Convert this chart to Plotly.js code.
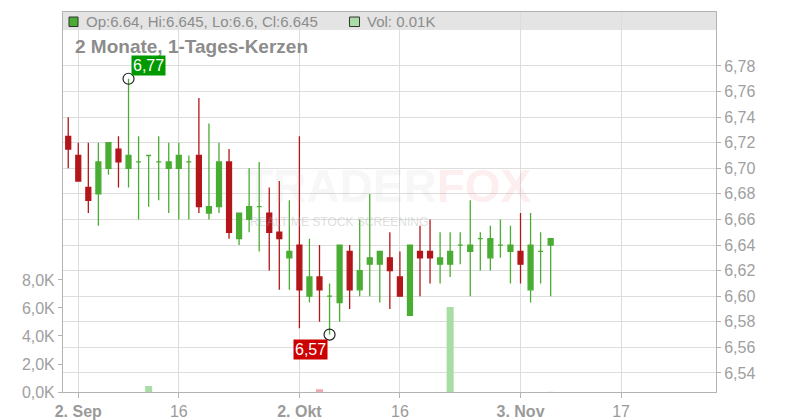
<!DOCTYPE html>
<html>
<head>
<meta charset="utf-8">
<script src="https://cdn.plot.ly/plotly-3.0.1.min.js"></script>
<style>
  html, body { margin:0; padding:0; background:#ffffff; }
  #myDiv { width:800px; height:420px; }
</style>
</head>
<body>
<div id="myDiv"></div>
<script>
// trading days (weekends removed by the axis rangebreaks)
var days = [
  '2025-09-01','2025-09-02','2025-09-03','2025-09-04','2025-09-05',
  '2025-09-08','2025-09-09','2025-09-10','2025-09-11','2025-09-12',
  '2025-09-15','2025-09-16','2025-09-17','2025-09-18','2025-09-19',
  '2025-09-22','2025-09-23','2025-09-24','2025-09-25','2025-09-26',
  '2025-09-29','2025-09-30','2025-10-01','2025-10-02','2025-10-03',
  '2025-10-06','2025-10-07','2025-10-08','2025-10-09','2025-10-10',
  '2025-10-13','2025-10-14','2025-10-15','2025-10-16','2025-10-17',
  '2025-10-20','2025-10-21','2025-10-22','2025-10-23','2025-10-24',
  '2025-10-27','2025-10-28','2025-10-29','2025-10-30','2025-10-31',
  '2025-11-03','2025-11-04','2025-11-05','2025-11-06'
];
var openP = [
  6.725,6.71,6.685,6.68,6.70, 6.715,6.70,6.705,6.71,6.705,
  6.70,6.70,6.705,6.71,6.665, 6.67,6.705,6.645,6.66,6.67,
  6.665,6.65,6.63,6.64,6.60, 6.615,6.60,6.595,6.635,6.605,
  6.625,6.625,6.63,6.615,6.585, 6.635,6.635,6.625,6.625,6.64,
  6.635,6.645,6.63,6.64,6.635, 6.635,6.605,6.635,6.64
];
var highP = [
  6.74,6.72,6.72,6.72,6.72, 6.725,6.77,6.725,6.71,6.725,
  6.72,6.72,6.71,6.755,6.735, 6.72,6.715,6.665,6.70,6.705,
  6.685,6.69,6.675,6.725,6.645, 6.64,6.61,6.64,6.64,6.66,
  6.68,6.635,6.65,6.635,6.64, 6.655,6.66,6.65,6.65,6.65,
  6.675,6.65,6.655,6.66,6.655, 6.665,6.665,6.65,6.645
];
var lowP = [
  6.70,6.69,6.665,6.655,6.695, 6.685,6.685,6.66,6.67,6.675,
  6.665,6.66,6.66,6.665,6.66, 6.665,6.645,6.64,6.65,6.635,
  6.62,6.605,6.605,6.575,6.595, 6.58,6.57,6.58,6.59,6.60,
  6.60,6.595,6.59,6.60,6.585, 6.60,6.61,6.61,6.615,6.625,
  6.60,6.62,6.62,6.63,6.61, 6.61,6.595,6.61,6.60
];
var closeP = [
  6.715,6.69,6.675,6.705,6.72, 6.705,6.71,6.705,6.71,6.705,
  6.705,6.71,6.705,6.67,6.67, 6.705,6.65,6.665,6.67,6.67,
  6.65,6.645,6.635,6.605,6.615, 6.605,6.60,6.64,6.605,6.62,
  6.63,6.635,6.62,6.60,6.64, 6.63,6.63,6.63,6.635,6.64,
  6.64,6.645,6.645,6.64,6.64, 6.625,6.64,6.635,6.645
];
// volume in thousand shares (days without a visible bar left at 0)
var volK = [
  0,0,0,0,0, 0,0,0,0.43,0,
  0,0,0,0,0, 0,0,0,0,0,
  0,0,0,0,0, 0.20,0,0,0,0,
  0,0,0,0,0, 0,0,0,6.07,0,
  0,0,0,0,0, 0,0,0,0.01
];
var tickDays = ['2025-09-02','2025-09-16','2025-10-02','2025-10-16','2025-11-03','2025-11-17'];
var tickLabels = ['<b>2. Sep</b>','16','<b>2. Okt</b>','16','<b>3. Nov</b>','17'];
var priceTicks = [6.54,6.56,6.58,6.60,6.62,6.64,6.66,6.68,6.70,6.72,6.74,6.76,6.78];
var volTicks = [0,2,4,6,8];

var GREEN='#4aad33', RED='#b3161a';
var VOL_GREEN='#aadca5', VOL_RED='#f0aab4';

// candles sit at noon so bars never touch a weekend break
function noon(d) { return d+' 12:00'; }
var xs = days.map(noon);

function pick(arr, up) {
  var out=[];
  for (var i=0;i<arr.length;i++) {
    if ((closeP[i] >= openP[i]) === up) out.push(arr[i]);
  }
  return out;
}

function candleTrace(up) {
  var col = up ? GREEN : RED;
  return {
    type:'candlestick', xaxis:'x', yaxis:'y2',
    x: pick(xs,up), open: pick(openP,up), high: pick(highP,up),
    low: pick(lowP,up), close: pick(closeP,up),
    increasing: {line:{color:col, width:1.3}, fillcolor:col},
    decreasing: {line:{color:col, width:1.3}, fillcolor:col},
    whiskerwidth: 0, hoverinfo:'skip', showlegend:false
  };
}

var volColors = [];
for (var i=0;i<days.length;i++) volColors.push(closeP[i] >= openP[i] ? VOL_GREEN : VOL_RED);

var traceVol = {
  type:'bar', x: xs, y: volK, xaxis:'x', yaxis:'y',
  width: 0.7*86400000,
  marker:{color: volColors, line:{width:0}},
  hoverinfo:'skip', showlegend:false
};

// max / min markers
var iMax=0, iMin=0;
for (var k=1;k<days.length;k++) {
  if (highP[k] > highP[iMax]) iMax=k;
  if (lowP[k] < lowP[iMin]) iMin=k;
}
var traceExt = {
  type:'scatter', mode:'markers', xaxis:'x', yaxis:'y2',
  x:[xs[iMax], xs[iMin]], y:[highP[iMax], lowP[iMin]],
  marker:{symbol:'circle-open', size:11, color:'#222222', line:{width:1.2, color:'#222222'}},
  hoverinfo:'skip', showlegend:false
};

function fmt(v, n) { return v.toFixed(n).replace('.',','); }
var last = days.length-1;
var headText = 'Op:'+openP[last]+', Hi:'+highP[last]+', Lo:'+lowP[last]+', Cl:'+closeP[last];
var volText = 'Vol: '+volK[last].toFixed(2)+'K';

var FONT = 'Arial, "Liberation Sans", sans-serif';
var AXC = '#b3b3b3';

var layout = {
  width:800, height:420,
  margin:{l:63, r:84, t:12, b:28},
  paper_bgcolor:'#ffffff', plot_bgcolor:'#ffffff',
  separators:',.',
  showlegend:false,
  font:{family:FONT, size:16, color:'#9a9a9a'},
  xaxis:{
    type:'date',
    range:['2025-08-29 23:31','2025-11-28 22:48'],
    rangebreaks:[{bounds:['sat','mon']}],
    rangeslider:{visible:false},
    tickmode:'array', tickvals: tickDays.map(noon), ticktext: tickLabels,
    showgrid:true, gridcolor:'#dddddd', gridwidth:1,
    showline:true, linecolor:AXC, mirror:true,
    ticks:'outside', ticklen:5, tickcolor:AXC,
    tickfont:{size:16, color:'#9a9a9a'},
    zeroline:false
  },
  yaxis:{
    range:[0, 27.14], tickmode:'array', tickvals:volTicks,
    ticktext: volTicks.map(function(v){ return fmt(v,1)+'K'; }),
    showgrid:false, showline:true, linecolor:AXC,
    ticks:'outside', ticklen:4, tickcolor:AXC,
    tickfont:{size:16, color:'#a0a0a0'}, zeroline:false
  },
  yaxis2:{
    overlaying:'y', side:'right',
    range:[6.5251, 6.8222], tickmode:'array', tickvals:priceTicks,
    ticktext: priceTicks.map(function(v){ return fmt(v,2); }),
    showgrid:true, gridcolor:'#dddddd',
    showline:true, linecolor:AXC,
    ticks:'outside', ticklen:4, tickcolor:AXC,
    tickfont:{size:16, color:'#a0a0a0'}, zeroline:false
  },
  shapes:[
    {type:'rect', xref:'paper', yref:'paper', x0:0, x1:1, y0:0.9526, y1:1,
     fillcolor:'#e4e4e4', line:{width:0}, layer:'below'},
    {type:'rect', xref:'paper', yref:'paper', x0:0.0092, x1:0.0230, y0:0.9618, y1:0.9868,
     fillcolor:GREEN, line:{width:1, color:'#333333'}},
    {type:'rect', xref:'paper', yref:'paper', x0:0.4387, x1:0.4541, y0:0.9618, y1:0.9868,
     fillcolor:VOL_GREEN, line:{width:1, color:'#333333'}}
  ],
  annotations:[
    // watermark, see-through so the candles still show
    {xref:'paper', yref:'paper', x:0.4982, y:0.4711, xanchor:'center', yanchor:'bottom',
     showarrow:false, borderpad:0,
     text:'<b><span style="color:rgba(170,170,170,0.33)">TRADER</span><span style="color:rgba(235,80,95,0.33)">FOX</span></b>',
     font:{size:46, family:FONT, color:'rgba(170,170,170,0.33)'}},
    {xref:'paper', yref:'paper', x:0.4219, y:0.4684, xanchor:'center', yanchor:'top',
     showarrow:false, borderpad:0, text:'REALTIME STOCK SCREENING',
     font:{size:12, family:FONT, color:'rgba(170,170,170,0.4)'}},
    {xref:'paper', yref:'paper', x:0.0322, y:0.9750, xanchor:'left', yanchor:'middle',
     showarrow:false, text:headText, font:{size:15, family:FONT, color:'#8c8c8c'}},
    {xref:'paper', yref:'paper', x:0.4625, y:0.9750, xanchor:'left', yanchor:'middle',
     showarrow:false, text:volText, font:{size:15, family:FONT, color:'#8c8c8c'}},
    {xref:'paper', yref:'paper', x:0.0148, y:0.9079, xanchor:'left', yanchor:'middle',
     showarrow:false, text:'<b>2 Monate, 1-Tages-Kerzen</b>', font:{size:19, family:FONT, color:'#8c8c8c'}},
    {xref:'x', yref:'y2', x:xs[iMax], y:highP[iMax], xanchor:'left', yanchor:'bottom',
     xshift:2, yshift:3, showarrow:false, text:fmt(highP[iMax],2),
     bgcolor:'#009900', borderpad:1, font:{size:16, family:FONT, color:'#ffffff'}},
    {xref:'x', yref:'y2', x:xs[iMin], y:lowP[iMin], xanchor:'right', yanchor:'top',
     xshift:-2, yshift:-4, showarrow:false, text:fmt(lowP[iMin],2),
     bgcolor:'#cc0000', borderpad:1, font:{size:16, family:FONT, color:'#ffffff'}}
  ]
};

var data = [traceVol, candleTrace(true), candleTrace(false), traceExt];
var config = {staticPlot:true, displayModeBar:false};

Plotly.newPlot('myDiv', data, layout, config);
</script>
</body>
</html>
